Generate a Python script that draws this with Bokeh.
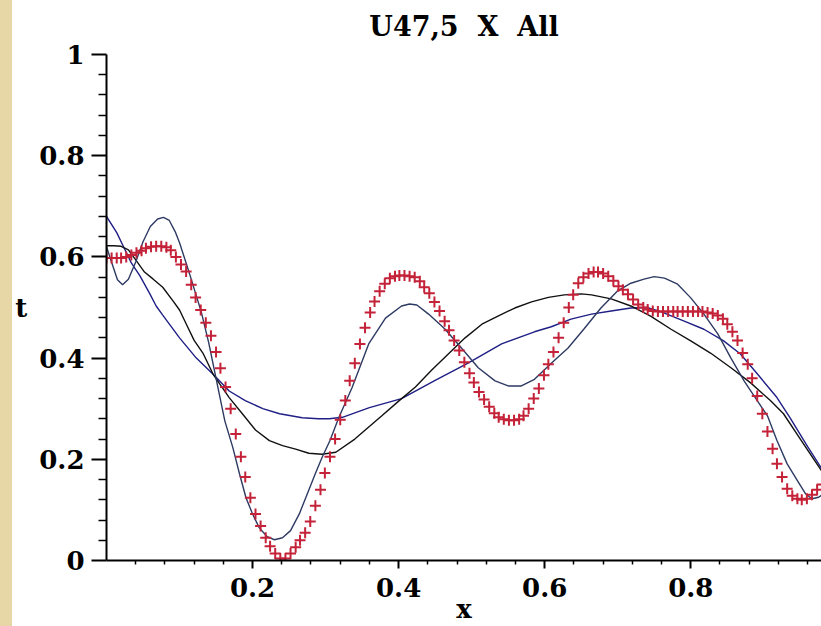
from bokeh.plotting import figure
from bokeh.models import FixedTicker, Range1d, Spacer
from bokeh.layouts import row
from bokeh.embed import file_html
from bokeh.resources import INLINE

# ---- data ----
title_text = "U47,5\u00a0\u00a0X\u00a0\u00a0All"
x_label = "x"
y_label = "t"

x_ticks = [0.2, 0.4, 0.6, 0.8]
x_tick_labels = ["0.2", "0.4", "0.6", "0.8"]
x_minor = [0.04, 0.08, 0.12, 0.16, 0.24, 0.28, 0.32, 0.36, 0.44, 0.48, 0.52, 0.56,
           0.64, 0.68, 0.72, 0.76, 0.84, 0.88, 0.92, 0.96]
y_ticks = [0, 0.2, 0.4, 0.6, 0.8, 1]
y_tick_labels = ["0", "0.2", "0.4", "0.6", "0.8", "1"]
y_minor = [0.04, 0.08, 0.12, 0.16, 0.24, 0.28, 0.32, 0.36, 0.44, 0.48, 0.52, 0.56,
           0.64, 0.68, 0.72, 0.76, 0.84, 0.88, 0.92, 0.96]

# red "+" data points
red_x = [0.000, 0.007, 0.014, 0.020, 0.027, 0.034, 0.041, 0.048, 0.054, 0.061,
         0.068, 0.075, 0.082, 0.088, 0.095, 0.102, 0.109, 0.116, 0.122, 0.129,
         0.136, 0.143, 0.150, 0.156, 0.163, 0.170, 0.177, 0.184, 0.190, 0.197,
         0.204, 0.211, 0.218, 0.224, 0.231, 0.238, 0.245, 0.252, 0.259, 0.265,
         0.272, 0.279, 0.286, 0.293, 0.299, 0.306, 0.313, 0.320, 0.327, 0.333,
         0.340, 0.347, 0.354, 0.361, 0.367, 0.374, 0.381, 0.388, 0.395, 0.401,
         0.408, 0.415, 0.422, 0.429, 0.435, 0.442, 0.449, 0.456, 0.463, 0.469,
         0.476, 0.483, 0.490, 0.497, 0.503, 0.510, 0.517, 0.524, 0.531, 0.537,
         0.544, 0.551, 0.558, 0.565, 0.571, 0.578, 0.585, 0.592, 0.599, 0.605,
         0.612, 0.619, 0.626, 0.633, 0.639, 0.646, 0.653, 0.660, 0.667, 0.673,
         0.680, 0.687, 0.694, 0.701, 0.707, 0.714, 0.721, 0.728, 0.735, 0.741,
         0.748, 0.755, 0.762, 0.769, 0.776, 0.782, 0.789, 0.796, 0.803, 0.810,
         0.816, 0.823, 0.830, 0.837, 0.844, 0.850, 0.857, 0.864, 0.871, 0.878,
         0.884, 0.891, 0.898, 0.905, 0.912, 0.918, 0.925, 0.932, 0.939, 0.946,
         0.952, 0.959, 0.966, 0.973, 0.980]
red_t = [0.598, 0.598, 0.598, 0.598, 0.600, 0.604, 0.608, 0.612, 0.617, 0.620,
         0.621, 0.621, 0.619, 0.613, 0.600, 0.585, 0.571, 0.545, 0.520, 0.495,
         0.470, 0.444, 0.412, 0.380, 0.343, 0.300, 0.250, 0.205, 0.165, 0.124,
         0.092, 0.068, 0.045, 0.028, 0.014, 0.004, 0.004, 0.014, 0.026, 0.040,
         0.055, 0.077, 0.108, 0.140, 0.173, 0.205, 0.240, 0.278, 0.316, 0.355,
         0.390, 0.428, 0.460, 0.490, 0.512, 0.532, 0.547, 0.558, 0.562, 0.563,
         0.563, 0.562, 0.560, 0.552, 0.540, 0.528, 0.511, 0.493, 0.473, 0.455,
         0.435, 0.415, 0.392, 0.370, 0.352, 0.333, 0.318, 0.304, 0.291, 0.283,
         0.279, 0.277, 0.277, 0.279, 0.286, 0.300, 0.320, 0.340, 0.366, 0.388,
         0.412, 0.440, 0.470, 0.500, 0.525, 0.548, 0.560, 0.567, 0.570, 0.570,
         0.567, 0.562, 0.553, 0.542, 0.535, 0.526, 0.516, 0.506, 0.500, 0.496,
         0.493, 0.492, 0.492, 0.492, 0.492, 0.492, 0.492, 0.492, 0.492, 0.492,
         0.492, 0.490, 0.488, 0.484, 0.478, 0.467, 0.452, 0.435, 0.410, 0.388,
         0.360, 0.325, 0.290, 0.255, 0.221, 0.191, 0.165, 0.142, 0.128, 0.122,
         0.120, 0.122, 0.130, 0.140, 0.150]

# oscillating thin curve
osc_x = [0.000, 0.008, 0.015, 0.022, 0.030, 0.040, 0.050, 0.060, 0.070, 0.078,
         0.086, 0.094, 0.100, 0.109, 0.116, 0.123, 0.130, 0.140, 0.150, 0.162,
         0.173, 0.182, 0.191, 0.200, 0.209, 0.220, 0.230, 0.241, 0.252, 0.264,
         0.275, 0.286, 0.295, 0.306, 0.318, 0.336, 0.359, 0.382, 0.404, 0.415,
         0.425, 0.441, 0.463, 0.486, 0.509, 0.532, 0.550, 0.568, 0.586, 0.609,
         0.632, 0.654, 0.677, 0.700, 0.718, 0.736, 0.750, 0.764, 0.782, 0.800,
         0.818, 0.837, 0.855, 0.873, 0.891, 0.905, 0.918, 0.932, 0.946, 0.957,
         0.966, 0.975, 0.980]
osc_t = [0.620, 0.585, 0.555, 0.545, 0.556, 0.590, 0.630, 0.660, 0.675, 0.678,
         0.672, 0.650, 0.628, 0.588, 0.556, 0.523, 0.490, 0.430, 0.360, 0.276,
         0.223, 0.172, 0.124, 0.092, 0.065, 0.047, 0.041, 0.045, 0.059, 0.092,
         0.132, 0.172, 0.203, 0.237, 0.282, 0.341, 0.428, 0.479, 0.503, 0.507,
         0.505, 0.487, 0.458, 0.420, 0.381, 0.355, 0.345, 0.345, 0.358, 0.390,
         0.420, 0.458, 0.499, 0.533, 0.548, 0.556, 0.561, 0.558, 0.546, 0.519,
         0.487, 0.448, 0.400, 0.355, 0.316, 0.286, 0.237, 0.191, 0.158, 0.132,
         0.122, 0.125, 0.130]

# black smooth curve
blk_x = [0.000, 0.010, 0.020, 0.030, 0.041, 0.052, 0.064, 0.077, 0.091, 0.100,
         0.110, 0.120, 0.132, 0.146, 0.155, 0.168, 0.186, 0.204, 0.223, 0.241,
         0.259, 0.277, 0.295, 0.314, 0.340, 0.377, 0.400, 0.423, 0.445, 0.468,
         0.491, 0.514, 0.536, 0.559, 0.582, 0.605, 0.627, 0.650, 0.664, 0.691,
         0.718, 0.745, 0.773, 0.800, 0.827, 0.855, 0.882, 0.909, 0.927, 0.950,
         0.980]
blk_t = [0.622, 0.622, 0.621, 0.614, 0.592, 0.570, 0.556, 0.540, 0.513, 0.495,
         0.465, 0.435, 0.410, 0.368, 0.349, 0.322, 0.290, 0.258, 0.237, 0.227,
         0.220, 0.212, 0.210, 0.214, 0.240, 0.286, 0.315, 0.343, 0.376, 0.408,
         0.440, 0.467, 0.483, 0.499, 0.511, 0.520, 0.525, 0.527, 0.525, 0.517,
         0.503, 0.483, 0.457, 0.434, 0.410, 0.381, 0.351, 0.316, 0.290, 0.240,
         0.175]

# navy smooth curve
nav_x = [0.000, 0.014, 0.023, 0.034, 0.046, 0.059, 0.068, 0.077, 0.100, 0.123,
         0.146, 0.168, 0.190, 0.214, 0.237, 0.268, 0.290, 0.305, 0.323, 0.360,
         0.404, 0.450, 0.495, 0.541, 0.586, 0.609, 0.636, 0.664, 0.691, 0.718,
         0.740, 0.759, 0.791, 0.818, 0.845, 0.868, 0.891, 0.918, 0.936, 0.960,
         0.980]
nav_t = [0.680, 0.648, 0.621, 0.588, 0.562, 0.528, 0.503, 0.485, 0.440, 0.400,
         0.368, 0.335, 0.316, 0.300, 0.290, 0.282, 0.280, 0.280, 0.283, 0.302,
         0.320, 0.356, 0.390, 0.428, 0.452, 0.462, 0.477, 0.487, 0.493, 0.499,
         0.500, 0.492, 0.473, 0.457, 0.434, 0.408, 0.369, 0.322, 0.282, 0.225,
         0.180]

# ---- figure ----
FONT = "DejaVu Serif"

p = figure(width=809, height=626, output_backend="svg", toolbar_location=None,
           x_range=Range1d(0, 0.979), y_range=Range1d(0, 1),
           min_border_left=91, min_border_right=0, min_border_top=53,
           min_border_bottom=0)
p.background_fill_color = "white"
p.border_fill_color = "white"
p.outline_line_color = None
p.grid.visible = False

p.title.text = title_text
p.title.align = "center"
p.title.offset = 11
p.title.text_font = FONT
p.title.text_font_size = "27px"
p.title.text_font_style = "bold"
p.title.text_color = "black"
p.title.vertical_align = "top"
p.title.standoff = 21

p.line(nav_x, nav_t, line_color="#1f1f85", line_width=1.4)
p.line(blk_x, blk_t, line_color="#111111", line_width=1.4)
p.line(osc_x, osc_t, line_color="#2d3a62", line_width=1.4)
p.scatter(red_x, red_t, marker="cross", size=11, line_width=2,
          line_color="#c42238")

for ax in (p.xaxis[0], p.yaxis[0]):
    ax.axis_line_width = 2
    ax.axis_line_color = "black"
    ax.major_tick_line_width = 2
    ax.minor_tick_line_width = 1.5
    ax.major_tick_line_color = "black"
    ax.minor_tick_line_color = "black"
    ax.major_tick_in = 0
    ax.minor_tick_in = 0
    ax.major_label_text_font = FONT
    ax.major_label_text_font_size = "26px"
    ax.major_label_text_font_style = "bold"
    ax.major_label_text_color = "black"
    ax.axis_label_text_font = FONT
    ax.axis_label_text_font_size = "26px"
    ax.axis_label_text_font_style = "bold"
    ax.axis_label_text_color = "black"

xa = p.xaxis[0]
xa.ticker = FixedTicker(ticks=x_ticks, minor_ticks=x_minor)
xa.major_label_overrides = dict(zip(x_ticks, x_tick_labels))
xa.major_tick_out = 8
xa.minor_tick_out = 4
xa.major_label_standoff = 9
xa.axis_label = x_label
xa.axis_label_standoff = -6

ya = p.yaxis[0]
ya.ticker = FixedTicker(ticks=y_ticks, minor_ticks=y_minor)
ya.major_label_overrides = dict(zip(y_ticks, y_tick_labels))
ya.major_tick_out = 15
ya.minor_tick_out = 8
ya.major_label_standoff = 7
ya.axis_label = y_label
ya.axis_label_orientation = "horizontal"
ya.axis_label_standoff = 9

strip = Spacer(width=12, height=626, styles={"background-color": "#e8d7a6"})
layout = row(strip, p, spacing=0)

open("out.html", "w").write(file_html(layout, INLINE))
